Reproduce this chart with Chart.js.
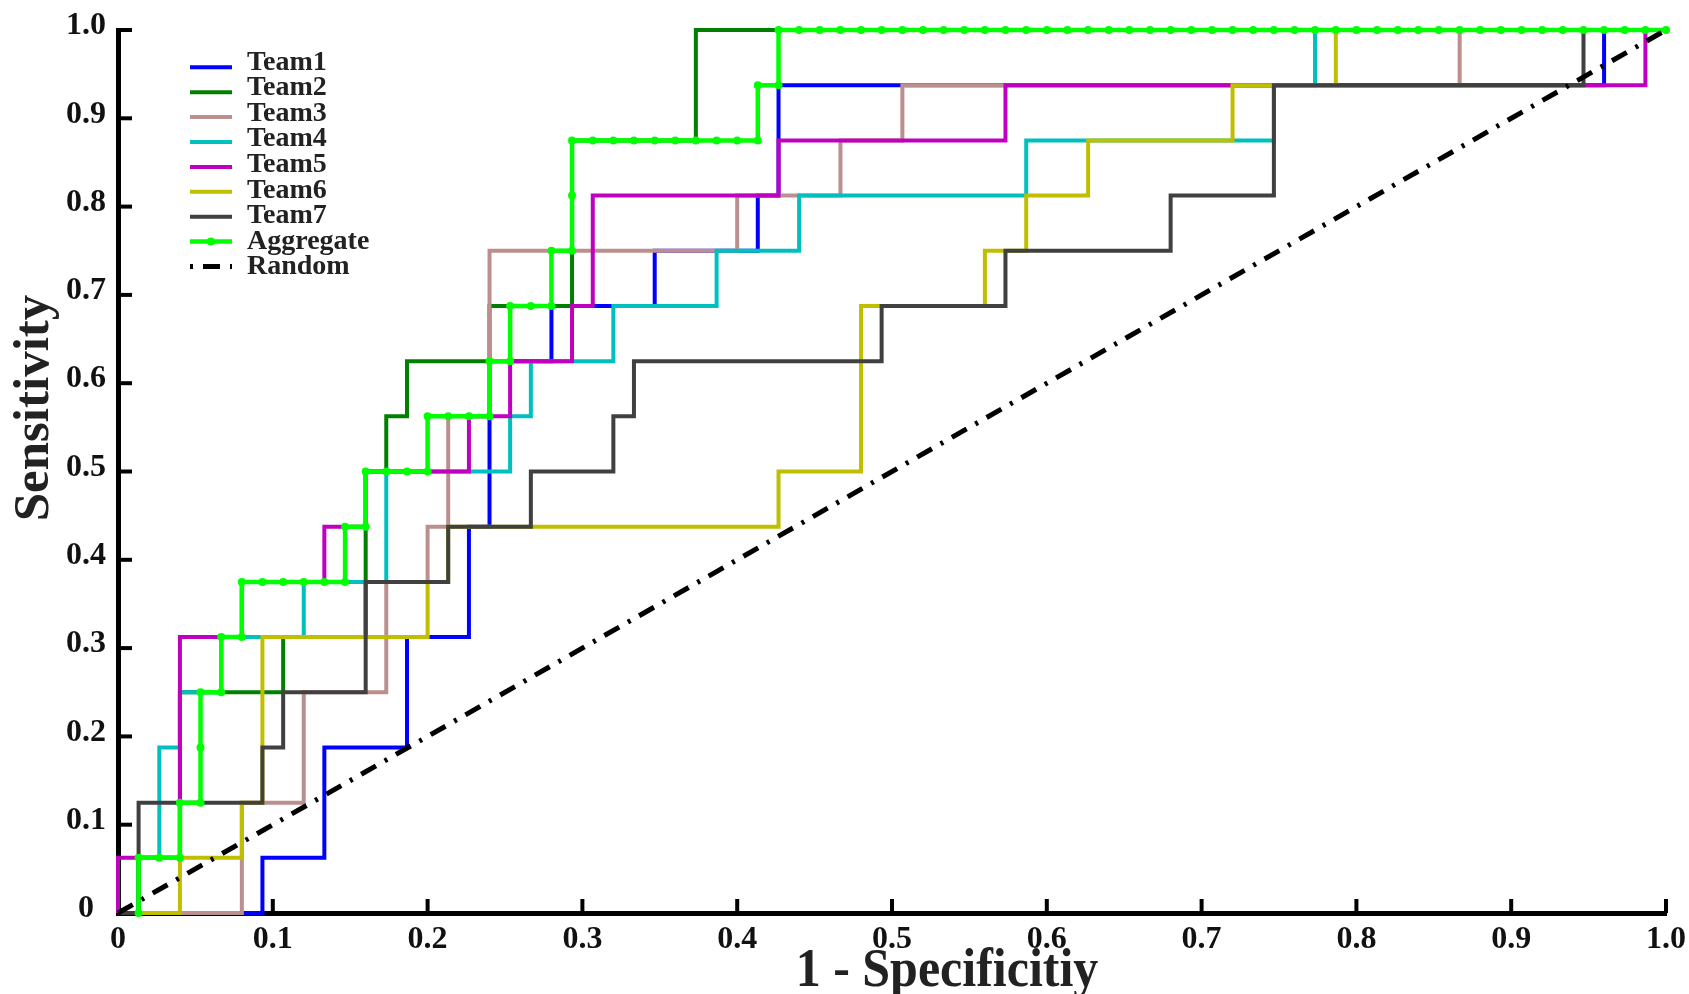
<!DOCTYPE html>
<html>
<head>
<meta charset="utf-8">
<title>ROC curves</title>
<script src="https://cdn.jsdelivr.net/npm/chart.js@4.4.1/dist/chart.umd.min.js"></script>
<style>
  html, body { margin: 0; padding: 0; background: #fff; }
  #wrap { width: 1689px; height: 994px; }
</style>
</head>
<body>
<div id="wrap"><canvas id="roc" width="1689" height="994"></canvas></div>
<script>
// tick labels, same on both axes
var tickLabels = ['0', '0.1', '0.2', '0.3', '0.4', '0.5', '0.6', '0.7', '0.8', '0.9', '1.0'];

var xTitle = '1 - Specificitiy';
var yTitle = 'Sensitivity';

// ROC staircase corners, x = 1 - specificity, y = sensitivity
var team1X = [0, 0.0933, 0.0933, 0.1333, 0.1333, 0.1867, 0.1867, 0.2267, 0.2267, 0.24, 0.24, 0.28, 0.28, 0.3467, 0.3467, 0.4133, 0.4133, 0.4267, 0.4267, 0.96, 0.96, 1];
var team1Y = [0, 0, 0.0625, 0.0625, 0.1875, 0.1875, 0.3125, 0.3125, 0.4375, 0.4375, 0.625, 0.625, 0.6875, 0.6875, 0.75, 0.75, 0.8125, 0.8125, 0.9375, 0.9375, 1, 1];

var team2X = [0, 0.0133, 0.0133, 0.04, 0.04, 0.1067, 0.1067, 0.16, 0.16, 0.1733, 0.1733, 0.1867, 0.1867, 0.24, 0.24, 0.2933, 0.2933, 0.3733, 0.3733, 1];
var team2Y = [0, 0, 0.0625, 0.0625, 0.25, 0.25, 0.3125, 0.3125, 0.5, 0.5, 0.5625, 0.5625, 0.625, 0.625, 0.6875, 0.6875, 0.875, 0.875, 1, 1];

var team3X = [0, 0.08, 0.08, 0.12, 0.12, 0.1733, 0.1733, 0.2, 0.2, 0.2133, 0.2133, 0.24, 0.24, 0.4, 0.4, 0.4667, 0.4667, 0.5067, 0.5067, 0.8667, 0.8667, 1];
var team3Y = [0, 0, 0.125, 0.125, 0.25, 0.25, 0.375, 0.375, 0.4375, 0.4375, 0.5625, 0.5625, 0.75, 0.75, 0.8125, 0.8125, 0.875, 0.875, 0.9375, 0.9375, 1, 1];

var team4X = [0, 0.0133, 0.0133, 0.0267, 0.0267, 0.04, 0.04, 0.0667, 0.0667, 0.12, 0.12, 0.1733, 0.1733, 0.2533, 0.2533, 0.2667, 0.2667, 0.32, 0.32, 0.3867, 0.3867, 0.44, 0.44, 0.5867, 0.5867, 0.7467, 0.7467, 0.7733, 0.7733, 1];
var team4Y = [0, 0, 0.0625, 0.0625, 0.1875, 0.1875, 0.25, 0.25, 0.3125, 0.3125, 0.375, 0.375, 0.5, 0.5, 0.5625, 0.5625, 0.625, 0.625, 0.6875, 0.6875, 0.75, 0.75, 0.8125, 0.8125, 0.875, 0.875, 0.9375, 0.9375, 1, 1];

var team5X = [0, 0, 0.04, 0.04, 0.08, 0.08, 0.1333, 0.1333, 0.16, 0.16, 0.2267, 0.2267, 0.2533, 0.2533, 0.2933, 0.2933, 0.3067, 0.3067, 0.4267, 0.4267, 0.5733, 0.5733, 0.9867, 0.9867, 1];
var team5Y = [0, 0.0625, 0.0625, 0.3125, 0.3125, 0.375, 0.375, 0.4375, 0.4375, 0.5, 0.5, 0.5625, 0.5625, 0.625, 0.625, 0.6875, 0.6875, 0.8125, 0.8125, 0.875, 0.875, 0.9375, 0.9375, 1, 1];

var team6X = [0, 0.04, 0.04, 0.08, 0.08, 0.0933, 0.0933, 0.2, 0.2, 0.2133, 0.2133, 0.4267, 0.4267, 0.48, 0.48, 0.56, 0.56, 0.5867, 0.5867, 0.6267, 0.6267, 0.72, 0.72, 0.7867, 0.7867, 1];
var team6Y = [0, 0, 0.0625, 0.0625, 0.125, 0.125, 0.3125, 0.3125, 0.375, 0.375, 0.4375, 0.4375, 0.5, 0.5, 0.6875, 0.6875, 0.75, 0.75, 0.8125, 0.8125, 0.875, 0.875, 0.9375, 0.9375, 1, 1];

var team7X = [0, 0.0133, 0.0133, 0.0933, 0.0933, 0.1067, 0.1067, 0.16, 0.16, 0.2133, 0.2133, 0.2667, 0.2667, 0.32, 0.32, 0.3333, 0.3333, 0.4933, 0.4933, 0.5733, 0.5733, 0.68, 0.68, 0.7467, 0.7467, 0.9467, 0.9467, 1];
var team7Y = [0, 0, 0.125, 0.125, 0.1875, 0.1875, 0.25, 0.25, 0.375, 0.375, 0.4375, 0.4375, 0.5, 0.5, 0.5625, 0.5625, 0.625, 0.625, 0.6875, 0.6875, 0.75, 0.75, 0.8125, 0.8125, 0.9375, 0.9375, 1, 1];

// aggregate keeps every threshold point (drawn with markers)
var aggX = [0.0133, 0.0133, 0.0267, 0.04, 0.04, 0.0533, 0.0533, 0.0533, 0.0667, 0.0667,
  0.08, 0.08, 0.0933, 0.1067, 0.12, 0.1333, 0.1467, 0.1467, 0.16, 0.16,
  0.1733, 0.1867, 0.2, 0.2, 0.2133, 0.2267, 0.24, 0.24, 0.2533, 0.2533,
  0.2667, 0.28, 0.28, 0.2933, 0.2933, 0.2933, 0.3067, 0.32, 0.3333, 0.3467,
  0.36, 0.3733, 0.3867, 0.4, 0.4133, 0.4133, 0.4267, 0.4267, 0.44, 0.4533,
  0.4667, 0.48, 0.4933, 0.5067, 0.52, 0.5333, 0.5467, 0.56, 0.5733, 0.5867,
  0.6, 0.6133, 0.6267, 0.64, 0.6533, 0.6667, 0.68, 0.6933, 0.7067, 0.72,
  0.7333, 0.7467, 0.76, 0.7733, 0.7867, 0.8, 0.8133, 0.8267, 0.84, 0.8533,
  0.8667, 0.88, 0.8933, 0.9067, 0.92, 0.9333, 0.9467, 0.96, 0.9733, 0.9867, 1];
var aggY = [0, 0.0625, 0.0625, 0.0625, 0.125, 0.125, 0.1875, 0.25, 0.25, 0.3125,
  0.3125, 0.375, 0.375, 0.375, 0.375, 0.375, 0.375, 0.4375, 0.4375, 0.5,
  0.5, 0.5, 0.5, 0.5625, 0.5625, 0.5625, 0.5625, 0.625, 0.625, 0.6875,
  0.6875, 0.6875, 0.75, 0.75, 0.8125, 0.875, 0.875, 0.875, 0.875, 0.875,
  0.875, 0.875, 0.875, 0.875, 0.875, 0.9375, 0.9375, 1, 1, 1,
  1, 1, 1, 1, 1, 1, 1, 1, 1, 1,
  1, 1, 1, 1, 1, 1, 1, 1, 1, 1,
  1, 1, 1, 1, 1, 1, 1, 1, 1, 1,
  1, 1, 1, 1, 1, 1, 1, 1, 1, 1, 1];

var randomX = [0, 1];
var randomY = [0, 1];

var SERIF = "'Liberation Serif', 'Times New Roman', serif";

function pts(xs, ys) {
  return xs.map(function (x, i) { return { x: x, y: ys[i] }; });
}

// later curves sit on top, like the original plot
function teamLine(label, color, xs, ys, order) {
  return {
    label: label,
    data: pts(xs, ys),
    borderColor: color,
    backgroundColor: color,
    borderWidth: 4,
    pointRadius: 0,
    fill: false,
    clip: false,
    borderJoinStyle: 'miter',
    borderCapStyle: 'butt',
    order: order
  };
}

var datasets = [
  teamLine('Team1', '#0000ff', team1X, team1Y, 8),
  teamLine('Team2', '#007f00', team2X, team2Y, 7),
  teamLine('Team3', '#bc8f8f', team3X, team3Y, 6),
  teamLine('Team4', '#00bfbf', team4X, team4Y, 5),
  teamLine('Team5', '#bf00bf', team5X, team5Y, 4),
  teamLine('Team6', '#bfbf00', team6X, team6Y, 3),
  teamLine('Team7', '#404040', team7X, team7Y, 2),
  {
    label: 'Aggregate',
    data: pts(aggX, aggY),
    borderColor: '#00ff00',
    backgroundColor: '#00ff00',
    borderWidth: 4.5,
    pointRadius: 4,
    pointBorderWidth: 0,
    pointBackgroundColor: '#00ff00',
    fill: false,
    clip: false,
    borderJoinStyle: 'miter',
    order: 1
  },
  {
    label: 'Random',
    data: pts(randomX, randomY),
    borderColor: '#000',
    backgroundColor: '#000',
    borderWidth: 5,
    borderDash: [17, 10, 3, 10],
    pointRadius: 0,
    fill: false,
    clip: false,
    order: 0
  }
];

// inward ticks, legend and axis titles
var rocDecor = {
  id: 'rocDecor',
  afterDraw: function (chart) {
    var ctx = chart.ctx;
    var area = chart.chartArea;
    var sx = chart.scales.x, sy = chart.scales.y;
    ctx.save();
    ctx.strokeStyle = '#000';
    ctx.lineWidth = 4;
    sx.ticks.forEach(function (t) {
      if (t.value === 0) return;
      var px = sx.getPixelForValue(t.value);
      ctx.beginPath();
      ctx.moveTo(px, area.bottom);
      ctx.lineTo(px, area.bottom - 14);
      ctx.stroke();
    });
    sy.ticks.forEach(function (t) {
      if (t.value === 0) return;
      var py = sy.getPixelForValue(t.value);
      ctx.beginPath();
      ctx.moveTo(area.left, py);
      ctx.lineTo(area.left + 14, py);
      ctx.stroke();
    });

    // legend
    chart.data.datasets.forEach(function (ds, i) {
      var ly = 67.3 + i * 24.9;
      var ty = 60 + i * 25.6;
      ctx.save();
      ctx.strokeStyle = ds.borderColor;
      ctx.lineWidth = ds.borderWidth;
      if (ds.borderDash) {
        ctx.setLineDash(ds.borderDash);
        ctx.lineDashOffset = 27;
      }
      ctx.beginPath();
      ctx.moveTo(190, ly);
      ctx.lineTo(232, ly);
      ctx.stroke();
      if (ds.pointRadius) {
        ctx.fillStyle = ds.pointBackgroundColor;
        ctx.beginPath();
        ctx.arc(211, ly, ds.pointRadius, 0, Math.PI * 2);
        ctx.fill();
      }
      ctx.restore();
      ctx.fillStyle = '#222';
      ctx.font = 'bold 28px ' + SERIF;
      ctx.textAlign = 'left';
      ctx.textBaseline = 'alphabetic';
      ctx.fillText(ds.label, 247, ty + 9.5);
    });

    // axis titles
    ctx.fillStyle = '#222';
    ctx.textAlign = 'center';
    ctx.textBaseline = 'alphabetic';

    ctx.save();
    ctx.font = 'bold 50px ' + SERIF;
    ctx.translate(947, 986);
    ctx.scale(1, 1.1);
    ctx.fillText(xTitle, 0, 0);
    ctx.restore();

    ctx.save();
    ctx.font = 'bold 51px ' + SERIF;
    ctx.translate(48, 408);
    ctx.rotate(-Math.PI / 2);
    ctx.fillText(yTitle, 0, 0);
    ctx.restore();

    ctx.restore();
  }
};

var tickFont = { family: SERIF, size: 32, weight: 'bold' };

var chart = new Chart(document.getElementById('roc'), {
  type: 'line',
  data: { datasets: datasets },
  options: {
    responsive: false,
    animation: false,
    devicePixelRatio: 1,
    layout: { padding: { top: 30, right: 23, bottom: 0, left: 0 } },
    plugins: {
      legend: { display: false },
      tooltip: { enabled: false }
    },
    elements: { line: { tension: 0 } },
    scales: {
      x: {
        type: 'linear',
        min: 0,
        max: 1,
        grid: { display: false, drawTicks: false },
        border: { display: true, color: '#000', width: 5 },
        ticks: {
          stepSize: 0.1,
          autoSkip: false,
          maxRotation: 0,
          padding: 8,
          color: '#111',
          font: tickFont,
          callback: function (v, i) { return tickLabels[i]; }
        },
        afterFit: function (s) {
          s.height = 81;
          s.paddingLeft = 0;
          s.paddingRight = 0;
        }
      },
      y: {
        type: 'linear',
        min: 0,
        max: 1,
        grid: { display: false, drawTicks: false },
        border: { display: true, color: '#000', width: 5 },
        ticks: {
          stepSize: 0.1,
          autoSkip: false,
          padding: 12,
          crossAlign: 'center',
          labelOffset: -4,
          color: '#111',
          font: tickFont,
          callback: function (v, i) { return tickLabels[i]; }
        },
        afterFit: function (s) {
          s.width = 118;
          s.paddingTop = 0;
          s.paddingBottom = 0;
        }
      }
    }
  },
  plugins: [rocDecor]
});
</script>
</body>
</html>
